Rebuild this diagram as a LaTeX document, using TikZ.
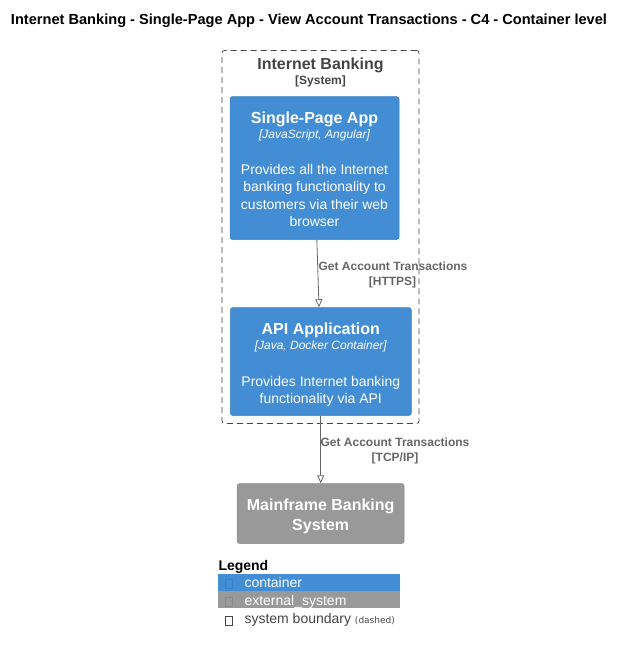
\documentclass[tikz,border=0pt]{standalone}
\usepackage{fontspec}
\setmainfont{Liberation Sans}
\newfontfamily\smallfam{DejaVu Sans}
\usetikzlibrary{arrows.meta}
\definecolor{c4blue}{HTML}{438DD5}
\definecolor{c4blueb}{HTML}{3C7FC0}
\definecolor{c4gray}{HTML}{999999}
\definecolor{c4grayb}{HTML}{8A8A8A}
\definecolor{bnd}{HTML}{444444}
\definecolor{lbl}{HTML}{666666}
\newcommand{\fs}[1]{\fontsize{#1}{#1}\selectfont}
\tikzset{
  container/.style={draw=c4blueb, line width=0.5pt, fill=c4blue, rounded corners=2.5pt, inner sep=0pt},
  extsys/.style={draw=c4grayb, line width=0.5pt, fill=c4gray, rounded corners=2.5pt, inner sep=0pt},
  boundary/.style={draw=bnd, dash pattern=on 6pt off 4pt, line width=0.8pt, rounded corners=2.5pt, inner sep=0pt},
  ttl/.style={anchor=base, inner sep=0pt, text=white, font=\bfseries\fs{16}},
  tech/.style={anchor=base, inner sep=0pt, text=white, font=\itshape\fs{12}},
  desc/.style={anchor=base, inner sep=0pt, text=white, font=\fs{14}},
  elbl/.style={anchor=base, inner sep=0pt, text=lbl, font=\bfseries\fs{12}},
  rel/.style={draw=lbl, line width=0.8pt, -{Triangle[open, length=8pt, width=7pt]}},
  lgd/.style={anchor=base west, inner sep=0pt, font=\fs{14}},
}
\begin{document}
\begin{tikzpicture}[x=1pt, y=-1pt]
\useasboundingbox (0,0) rectangle (625,653);
% title
\node[anchor=base, inner sep=0pt, font=\bfseries\fs{14.6}] (title) at (309,24.5) {Internet Banking - Single-Page App - View Account Transactions - C4 - Container level};
% boundary
\node[boundary, minimum width=197pt, minimum height=373pt] (ib) at (320.5,237) {};
\node[anchor=base, inner sep=0pt, text=bnd, font=\bfseries\fs{16}] (ibt) at (320.5,69.5) {Internet Banking};
\node[anchor=base, inner sep=0pt, text=bnd, font=\bfseries\fs{12}] (ibs) at (320.5,84.5) {[System]};
% SPA
\node[container, minimum width=169pt, minimum height=143pt] (spa) at (314.5,168) {};
\node[ttl] (spat) at (314.5,123.5) {Single-Page App};
\node[tech] (spatech) at (314.5,138.8) {[JavaScript, Angular]};
\node[desc] (spad1) at (314.5,174.3) {Provides all the Internet};
\node[desc] (spad2) at (314.5,191.7) {banking functionality to};
\node[desc] (spad3) at (314.5,209.1) {customers via their web};
\node[desc] (spad4) at (314.5,226.6) {browser};
% API
\node[container, minimum width=181pt, minimum height=108pt] (api) at (320.8,361.5) {};
\node[ttl] (apit) at (320.8,334) {API Application};
\node[tech] (apitech) at (320.8,349.3) {[Java, Docker Container]};
\node[desc] (apid1) at (320.8,386) {Provides Internet banking};
\node[desc] (apid2) at (320.8,403.4) {functionality via API};
% Mainframe
\node[extsys, minimum width=167pt, minimum height=60pt] (mf) at (320.7,513.5) {};
\node[ttl] (mft1) at (320.7,510.7) {Mainframe Banking};
\node[ttl] (mft2) at (320.7,530) {System};
% relations
\draw[rel] (spa) -- (api);
\node[elbl] (r1a) at (393,270.6) {Get Account Transactions};
\node[elbl] (r1b) at (392.5,285.5) {[HTTPS]};
\draw[rel] (api.south -| mf.north) -- (mf.north);
\node[elbl] (r2a) at (395,446.8) {Get Account Transactions};
\node[elbl] (r2b) at (395,461.8) {[TCP/IP]};
% legend
\node[anchor=base west, inner sep=0pt, font=\bfseries\fs{14}] (lg) at (218.3,570.5) {Legend};
\fill[c4blue] (218.3,574) rectangle (400,591);
\fill[c4gray] (218.3,591) rectangle (400,608.3);
\draw[c4blueb, line width=0.5pt] (225.5,579.5) rectangle (232.5,588.5);
\draw[c4grayb, line width=0.5pt] (225.5,596.8) rectangle (232.5,605.8);
\draw[bnd, line width=0.6pt] (225.5,616) rectangle (232.5,625.5);
\node[lgd, text=white] (lg1) at (244.3,587.5) {container};
\node[lgd, text=white] (lg2) at (244.3,605) {external\_system};
\node[lgd, text=bnd] (lg3) at (244.3,623.3) {system boundary {\smallfam\fs{9}(dashed)}};
\end{tikzpicture}
\end{document}
